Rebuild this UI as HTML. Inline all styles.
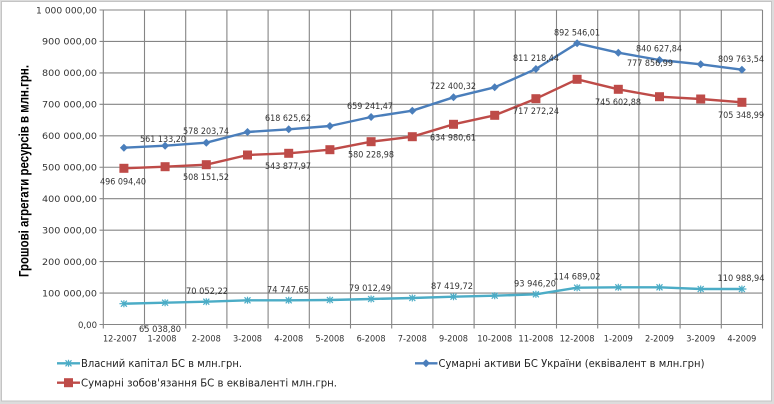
<!DOCTYPE html>
<html><head><meta charset="utf-8"><style>
html,body{margin:0;padding:0;background:#fff;}
svg{display:block;}
</style></head><body>
<svg width="774" height="404" viewBox="0 0 774 404" xmlns="http://www.w3.org/2000/svg">
<defs>
<g id="dm"><path d="M0,-4 L4,0 L0,4 L-4,0 Z" fill="#4A7EBB"/></g>
<g id="sq"><rect x="-4.5" y="-4.5" width="9" height="9" fill="#BE4B48"/></g>
<g id="st" stroke="#4BACC6" stroke-width="1.2"><path d="M-4.5,0 H4.5 M-3,-3 L3,3 M-3,3 L3,-3 M0,-3.5 V3.5"/></g>
</defs>
<rect x="0" y="0" width="774" height="404" fill="#dcdcdc"/>
<rect x="1.5" y="1.5" width="770" height="399.5" fill="#fff" stroke="#c4c4c4" stroke-width="1"/>

<!-- gridlines -->
<g stroke="#858585" stroke-width="1.1" fill="none">
<path d="M99.5,10H762.5 M99.5,41.45H762.5 M99.5,72.9H762.5 M99.5,104.35H762.5 M99.5,135.8H762.5 M99.5,167.25H762.5 M99.5,198.7H762.5 M99.5,230.15H762.5 M99.5,261.6H762.5 M99.5,293.05H762.5"/>
<path d="M144.5,10V328.5 M185.7,10V328.5 M226.9,10V328.5 M268.1,10V328.5 M309.3,10V328.5 M350.5,10V328.5 M391.7,10V328.5 M432.9,10V328.5 M474.1,10V328.5 M515.3,10V328.5 M556.5,10V328.5 M597.7,10V328.5 M638.9,10V328.5 M680.1,10V328.5 M721.3,10V328.5 M762.5,10V328.5"/>
<path d="M103.3,10V328.5 M99.5,324.5H762.5"/>
</g>

<!-- y labels -->
<g font-family="DejaVu Sans, Liberation Sans, sans-serif" font-size="9" fill="#333" text-anchor="end">
<text x="97" y="13.3" textLength="61" lengthAdjust="spacingAndGlyphs">1 000 000,00</text>
<text x="97" y="44.7" textLength="55" lengthAdjust="spacingAndGlyphs">900 000,00</text>
<text x="97" y="76.2" textLength="55" lengthAdjust="spacingAndGlyphs">800 000,00</text>
<text x="97" y="107.6" textLength="55" lengthAdjust="spacingAndGlyphs">700 000,00</text>
<text x="97" y="139.1" textLength="55" lengthAdjust="spacingAndGlyphs">600 000,00</text>
<text x="97" y="170.5" textLength="55" lengthAdjust="spacingAndGlyphs">500 000,00</text>
<text x="97" y="202" textLength="55" lengthAdjust="spacingAndGlyphs">400 000,00</text>
<text x="97" y="233.4" textLength="55" lengthAdjust="spacingAndGlyphs">300 000,00</text>
<text x="97" y="264.9" textLength="55" lengthAdjust="spacingAndGlyphs">200 000,00</text>
<text x="97" y="296.3" textLength="55" lengthAdjust="spacingAndGlyphs">100 000,00</text>
<text x="97" y="327.8" textLength="19" lengthAdjust="spacingAndGlyphs">0,00</text>
</g>

<!-- x labels -->
<g font-family="DejaVu Sans, Liberation Sans, sans-serif" font-size="9" fill="#333" text-anchor="middle">
<text x="120" y="341.3" textLength="34" lengthAdjust="spacingAndGlyphs">12-2007</text>
<text x="162" y="341.3" textLength="29" lengthAdjust="spacingAndGlyphs">1-2008</text>
<text x="206.3" y="341.3" textLength="29" lengthAdjust="spacingAndGlyphs">2-2008</text>
<text x="247.5" y="341.3" textLength="29" lengthAdjust="spacingAndGlyphs">3-2008</text>
<text x="288.7" y="341.3" textLength="29" lengthAdjust="spacingAndGlyphs">4-2008</text>
<text x="329.9" y="341.3" textLength="29" lengthAdjust="spacingAndGlyphs">5-2008</text>
<text x="371.1" y="341.3" textLength="29" lengthAdjust="spacingAndGlyphs">6-2008</text>
<text x="412.3" y="341.3" textLength="29" lengthAdjust="spacingAndGlyphs">7-2008</text>
<text x="453.5" y="341.3" textLength="29" lengthAdjust="spacingAndGlyphs">9-2008</text>
<text x="494.7" y="341.3" textLength="35" lengthAdjust="spacingAndGlyphs">10-2008</text>
<text x="535.9" y="341.3" textLength="35" lengthAdjust="spacingAndGlyphs">11-2008</text>
<text x="577.1" y="341.3" textLength="35" lengthAdjust="spacingAndGlyphs">12-2008</text>
<text x="618.3" y="341.3" textLength="29" lengthAdjust="spacingAndGlyphs">1-2009</text>
<text x="659.5" y="341.3" textLength="29" lengthAdjust="spacingAndGlyphs">2-2009</text>
<text x="700.7" y="341.3" textLength="29" lengthAdjust="spacingAndGlyphs">3-2009</text>
<text x="741.9" y="341.3" textLength="29" lengthAdjust="spacingAndGlyphs">4-2009</text>
</g>

<!-- y title -->
<text transform="translate(28.5,171) rotate(-90)" font-family="Liberation Sans, sans-serif" font-weight="bold" font-size="14" fill="#000" text-anchor="middle" textLength="212" lengthAdjust="spacingAndGlyphs">Грошові агрегати ресурсів  в млн.грн.</text>

<!-- series: cyan -->
<polyline fill="none" stroke="#4BACC6" stroke-width="2.4" stroke-linejoin="round" points="123.9,303.7 165.1,302.7 206.3,301.7 247.5,300.3 288.7,300.3 329.9,300 371.1,299 412.3,298 453.5,296.7 494.7,295.7 535.9,294.3 577.1,287.7 618.3,287.3 659.5,287.3 700.7,289 741.9,289"/>
<g>
<use href="#st" x="123.9" y="303.7"/><use href="#st" x="165.1" y="302.7"/><use href="#st" x="206.3" y="301.7"/><use href="#st" x="247.5" y="300.3"/><use href="#st" x="288.7" y="300.3"/><use href="#st" x="329.9" y="300"/><use href="#st" x="371.1" y="299"/><use href="#st" x="412.3" y="298"/><use href="#st" x="453.5" y="296.7"/><use href="#st" x="494.7" y="295.7"/><use href="#st" x="535.9" y="294.3"/><use href="#st" x="577.1" y="287.7"/><use href="#st" x="618.3" y="287.3"/><use href="#st" x="659.5" y="287.3"/><use href="#st" x="700.7" y="289"/><use href="#st" x="741.9" y="289"/>
</g>

<!-- series: red -->
<polyline fill="none" stroke="#BE4B48" stroke-width="2.4" stroke-linejoin="round" points="123.9,168.3 165.1,166.7 206.3,164.7 247.5,155 288.7,153.3 329.9,149.7 371.1,141.7 412.3,136.7 453.5,124.3 494.7,115.3 535.9,98.7 577.1,79.3 618.3,89.3 659.5,96.7 700.7,99 741.9,102.3"/>
<g>
<use href="#sq" x="123.9" y="168.3"/><use href="#sq" x="165.1" y="166.7"/><use href="#sq" x="206.3" y="164.7"/><use href="#sq" x="247.5" y="155"/><use href="#sq" x="288.7" y="153.3"/><use href="#sq" x="329.9" y="149.7"/><use href="#sq" x="371.1" y="141.7"/><use href="#sq" x="412.3" y="136.7"/><use href="#sq" x="453.5" y="124.3"/><use href="#sq" x="494.7" y="115.3"/><use href="#sq" x="535.9" y="98.7"/><use href="#sq" x="577.1" y="79.3"/><use href="#sq" x="618.3" y="89.3"/><use href="#sq" x="659.5" y="96.7"/><use href="#sq" x="700.7" y="99"/><use href="#sq" x="741.9" y="102.3"/>
</g>

<!-- series: blue -->
<polyline fill="none" stroke="#4A7EBB" stroke-width="2.4" stroke-linejoin="round" points="123.9,147.7 165.1,145.7 206.3,142.7 247.5,132 288.7,129.3 329.9,126 371.1,117 412.3,110.7 453.5,97.3 494.7,87.3 535.9,69 577.1,43.3 618.3,52.7 659.5,60 700.7,64.3 741.9,69.7"/>
<g>
<use href="#dm" x="123.9" y="147.7"/><use href="#dm" x="165.1" y="145.7"/><use href="#dm" x="206.3" y="142.7"/><use href="#dm" x="247.5" y="132"/><use href="#dm" x="288.7" y="129.3"/><use href="#dm" x="329.9" y="126"/><use href="#dm" x="371.1" y="117"/><use href="#dm" x="412.3" y="110.7"/><use href="#dm" x="453.5" y="97.3"/><use href="#dm" x="494.7" y="87.3"/><use href="#dm" x="535.9" y="69"/><use href="#dm" x="577.1" y="43.3"/><use href="#dm" x="618.3" y="52.7"/><use href="#dm" x="659.5" y="60"/><use href="#dm" x="700.7" y="64.3"/><use href="#dm" x="741.9" y="69.7"/>
</g>

<!-- data labels -->
<g font-family="DejaVu Sans, Liberation Sans, sans-serif" font-size="8.7" fill="#333" text-anchor="middle">
<text x="163" y="142.2" textLength="46" lengthAdjust="spacingAndGlyphs">561 133,20</text>
<text x="206" y="134.2" textLength="46" lengthAdjust="spacingAndGlyphs">578 203,74</text>
<text x="288" y="120.9" textLength="46" lengthAdjust="spacingAndGlyphs">618 625,62</text>
<text x="370" y="109.2" textLength="46" lengthAdjust="spacingAndGlyphs">659 241,47</text>
<text x="453" y="88.9" textLength="46" lengthAdjust="spacingAndGlyphs">722 400,32</text>
<text x="536" y="60.9" textLength="46" lengthAdjust="spacingAndGlyphs">811 218,44</text>
<text x="577" y="35.5" textLength="46" lengthAdjust="spacingAndGlyphs">892 546,01</text>
<text x="659" y="51.5" textLength="46" lengthAdjust="spacingAndGlyphs">840 627,84</text>
<text x="741" y="61.9" textLength="46" lengthAdjust="spacingAndGlyphs">809 763,54</text>

<text x="123" y="184.5" textLength="46" lengthAdjust="spacingAndGlyphs">496 094,40</text>
<text x="206" y="180.2" textLength="46" lengthAdjust="spacingAndGlyphs">508 151,52</text>
<text x="288" y="168.9" textLength="46" lengthAdjust="spacingAndGlyphs">543 877,97</text>
<text x="371" y="157.5" textLength="46" lengthAdjust="spacingAndGlyphs">580 228,98</text>
<text x="453" y="140.5" textLength="46" lengthAdjust="spacingAndGlyphs">634 980,61</text>
<text x="536" y="114.2" textLength="46" lengthAdjust="spacingAndGlyphs">717 272,24</text>
<text x="618" y="104.9" textLength="46" lengthAdjust="spacingAndGlyphs">745 602,88</text>
<text x="650" y="66.2" textLength="46" lengthAdjust="spacingAndGlyphs">777 856,99</text>
<text x="741" y="118.2" textLength="46" lengthAdjust="spacingAndGlyphs">705 348,99</text>

<text x="160" y="332.2" textLength="42" lengthAdjust="spacingAndGlyphs">65 038,80</text>
<text x="207" y="294.2" textLength="42" lengthAdjust="spacingAndGlyphs">70 052,22</text>
<text x="288" y="292.5" textLength="42" lengthAdjust="spacingAndGlyphs">74 747,65</text>
<text x="370" y="291.2" textLength="42" lengthAdjust="spacingAndGlyphs">79 012,49</text>
<text x="452" y="288.9" textLength="42" lengthAdjust="spacingAndGlyphs">87 419,72</text>
<text x="535" y="286.5" textLength="42" lengthAdjust="spacingAndGlyphs">93 946,20</text>
<text x="577" y="279.5" textLength="47" lengthAdjust="spacingAndGlyphs">114 689,02</text>
<text x="741" y="281.2" textLength="47" lengthAdjust="spacingAndGlyphs">110 988,94</text>
</g>

<!-- legend -->
<line x1="57" y1="363.3" x2="80" y2="363.3" stroke="#4BACC6" stroke-width="2.4"/>
<use href="#st" x="68.5" y="363.3"/>
<line x1="57" y1="382.7" x2="80" y2="382.7" stroke="#BE4B48" stroke-width="2.4"/>
<use href="#sq" x="68.5" y="382.7"/>
<line x1="415" y1="363.3" x2="437.5" y2="363.3" stroke="#4A7EBB" stroke-width="2.4"/>
<use href="#dm" x="426" y="363.3"/>
<g font-family="DejaVu Sans, Liberation Sans, sans-serif" font-size="10.6" fill="#222">
<text x="81" y="367.2" textLength="161" lengthAdjust="spacingAndGlyphs">Власний капітал БС в млн.грн.</text>
<text x="81" y="386.7" textLength="256" lengthAdjust="spacingAndGlyphs">Сумарні зобов'язання БС в еквіваленті млн.грн.</text>
<text x="438.5" y="367.2" textLength="266" lengthAdjust="spacingAndGlyphs">Сумарні активи БС України (еквівалент в млн.грн)</text>
</g>
</svg>
</body></html>
